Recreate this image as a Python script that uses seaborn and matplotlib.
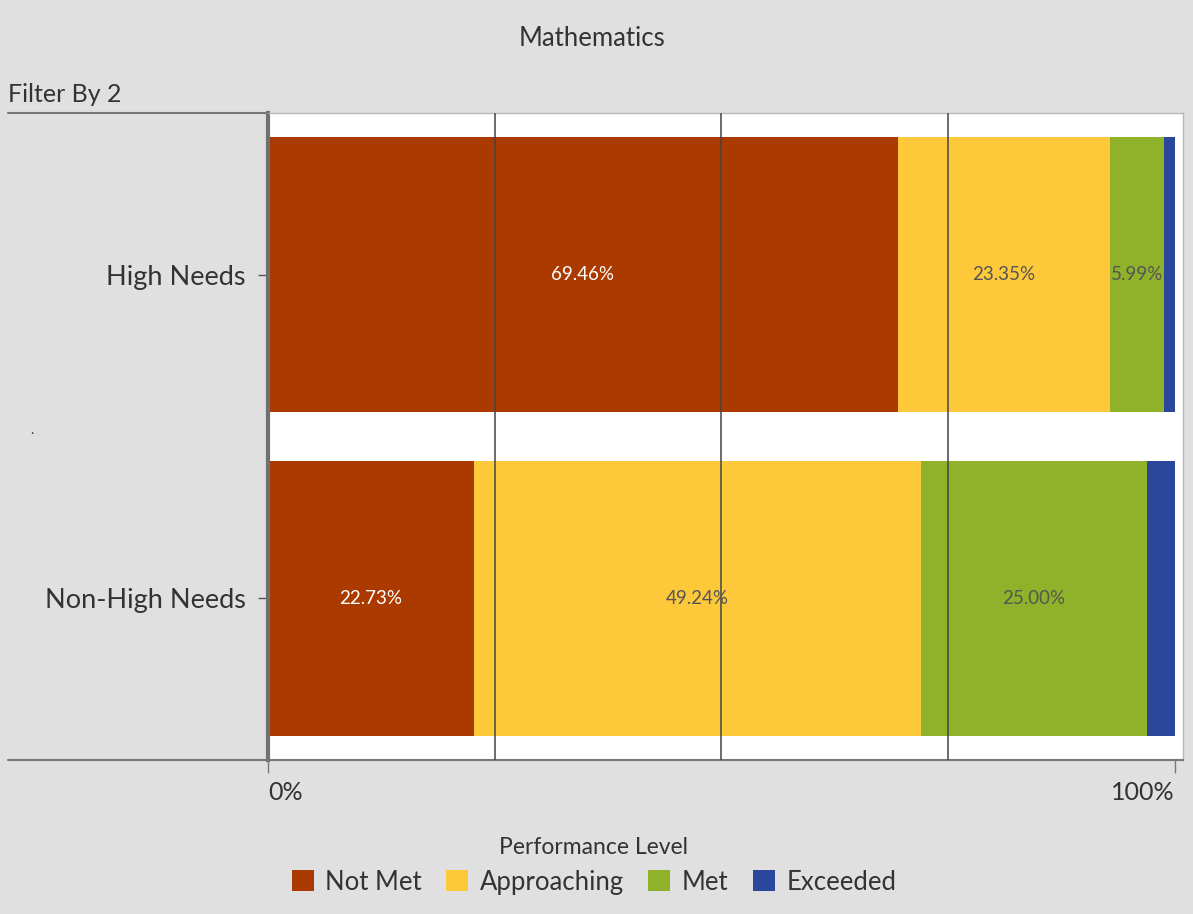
import numpy as np
import pandas as pd
import seaborn as sns
import matplotlib.pyplot as plt
from matplotlib.patches import Patch
from matplotlib.lines import Line2D

groups = ['High Needs', 'Non-High Needs']
levels = ['Not Met', 'Approaching', 'Met', 'Exceeded']
not_met = [69.46, 22.73]
approaching = [23.35, 49.24]
met = [5.99, 25.00]
exceeded = [1.20, 3.03]
colors = ['#ab3a00', '#fdc93a', '#8fb22a', '#2b479c']
label_colors = ['white', '#555555', '#555555', None]

df = pd.DataFrame({'Group': groups, 'Not Met': not_met, 'Approaching': approaching,
                   'Met': met, 'Exceeded': exceeded})
cum = df[levels].cumsum(axis=1)

sns.set_style('white')
plt.rcParams['font.family'] = ['Lato', 'DejaVu Sans']

fig = plt.figure(figsize=(11.93, 9.14), dpi=100, facecolor='#e0e0e0')
ax = fig.add_axes([268 / 1193, 1 - 760 / 914, (1183 - 268) / 1193, (760 - 113) / 914])
ax.set_facecolor('white')

# overlay cumulative bars from the right-most level back to the first one
for lvl, col in reversed(list(zip(levels, colors))):
    sns.barplot(x=cum[lvl], y=df['Group'], orient='h', color=col, width=0.85,
                saturation=1, linewidth=0, ax=ax, zorder=2)

for i in range(len(groups)):
    for lvl, lc in zip(levels, label_colors):
        if lc is None:
            continue
        xc = cum.loc[i, lvl] - df.loc[i, lvl] / 2
        ax.text(xc, i, f'{df.loc[i, lvl]:.2f}%', ha='center', va='center',
                color=lc, fontsize=13.5, zorder=4)

for g in [25, 50, 75]:
    ax.axvline(g, color='#444444', lw=1.1, zorder=3)

ax.set_xlim(0, 100.9)
ax.set_ylim(1.5, -0.5)
ax.set_xticks([0, 100])
ax.set_xticklabels(['0%', '100%'], fontsize=18, color='#333333')
ax.get_xticklabels()[0].set_ha('left')
ax.get_xticklabels()[1].set_ha('right')
ax.tick_params(axis='x', length=9, width=1, color='#777777', pad=6,
               direction='out', bottom=True)
ax.tick_params(axis='y', length=7, width=1, color='#555555', labelsize=19.5,
               labelcolor='#333333', pad=9, left=True)
ax.set_xlabel('')
ax.set_ylabel('')

for s in ['top', 'right']:
    ax.spines[s].set_color('#b8b8b8')
    ax.spines[s].set_linewidth(1)
ax.spines['left'].set_color('#707070')
ax.spines['left'].set_linewidth(3)
ax.spines['bottom'].set_color('#777777')
ax.spines['bottom'].set_linewidth(1.5)

# lines extending to the left of the plot area
fig.add_artist(Line2D([8 / 1193, 268 / 1193], [1 - 113 / 914] * 2, color='#777777', lw=1.5))
fig.add_artist(Line2D([8 / 1193, 268 / 1193], [1 - 760 / 914] * 2, color='#777777', lw=1.5))

fig.text(592 / 1193, 1 - 38 / 914, 'Mathematics', ha='center', va='center', fontsize=18.5, color='#333333')
fig.text(8 / 1193, 1 - 95 / 914, 'Filter By 2', ha='left', va='center', fontsize=18, color='#333333')
fig.text(32 / 1193, 1 - 436 / 914, '.', ha='center', va='bottom', fontsize=10, color='#333333')

handles = [Patch(facecolor=c, edgecolor='none') for c in colors]
leg = fig.legend(handles, levels, loc='center', bbox_to_anchor=(594 / 1193, 1 - 866 / 914),
                 ncol=4, frameon=False, title='Performance Level', fontsize=18.5,
                 title_fontsize=16.5, handlelength=0.85, handleheight=0.85,
                 columnspacing=0.95, handletextpad=0.45, labelspacing=0.2)
for t in leg.get_texts():
    t.set_color('#333333')
leg.get_title().set_color('#333333')
leg._legend_box.sep = 8

fig.savefig('out.png', dpi=100, facecolor=fig.get_facecolor())
